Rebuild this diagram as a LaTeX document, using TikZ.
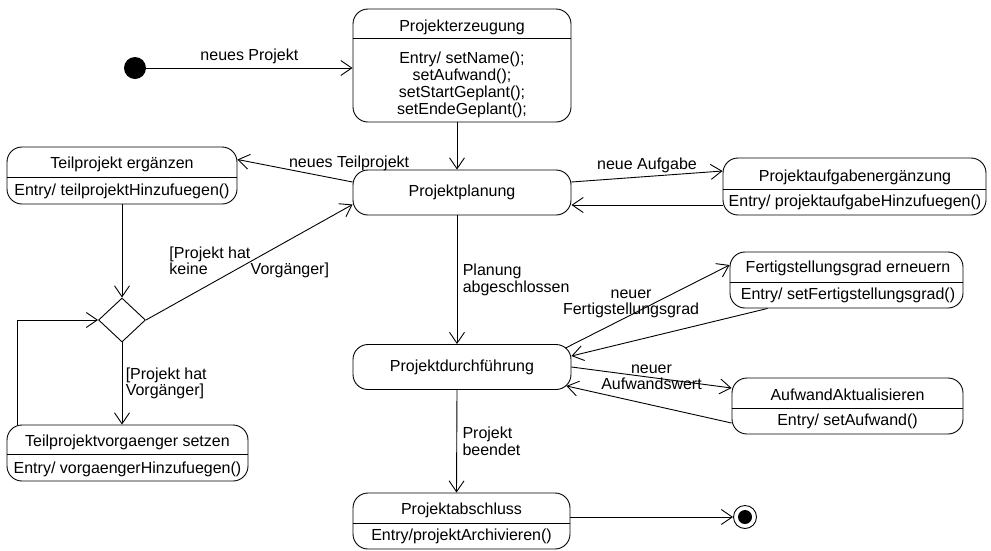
\documentclass[tikz,border=0pt]{standalone}
\usepackage{fontspec}
\setmainfont{Liberation Sans}
\usetikzlibrary{arrows.meta, shapes.geometric, positioning}

\begin{document}
\begin{tikzpicture}[
			x=1pt, y=-1pt,
			>={Straight Barb[length=11pt,width=15pt]},
			every node/.style={font=\fontsize{16}{16.4}\selectfont},
			state/.style={draw, line width=0.9pt, rounded corners=15pt, inner sep=0pt},
			choice/.style={diamond, draw, line width=0.9pt, minimum width=47pt, minimum height=44pt, inner sep=0pt},
			startdot/.style={circle, fill=black, minimum size=22pt, inner sep=0pt},
			enddot/.style={circle, draw, line width=0.9pt, minimum size=23pt, inner sep=0pt, path picture={\fill (path picture bounding box.center) circle (7pt);}},
			divider/.style={line width=0.9pt},
			trans/.style={->, line width=0.9pt}
			]
			\useasboundingbox (0,0) rectangle (991,550);
			
			% --- Pseudo states ---
			\node[startdot] (start) at (135,68) {};
			\node[enddot] (end) at (745,517) {};
			
			% --- Main column ---
			\node[state, minimum width=218pt, minimum height=113pt] (erz) at (462,65.5) {};
			\node (erz-t) at (462,27) {Projekterzeugung};
			\draw[divider] (erz.west |- 0,38) -- (erz.east |- 0,38);
			\node[align=center, font=\fontsize{16}{16.8}\selectfont] (erz-e) at (462,85) {Entry/ setName();\\setAufwand();\\setStartGeplant();\\setEndeGeplant();};
			
			\node[state, minimum width=218pt, minimum height=45pt] (plan) at (462,192.5) {Projektplanung};
			\node[state, minimum width=218pt, minimum height=45pt] (durch) at (462,367) {Projektdurchführung};
			
			\node[state, minimum width=217pt, minimum height=56pt] (absch) at (461.5,521) {};
			\node (absch-t) at (461.5,510) {Projektabschluss};
			\draw[divider] (absch.west |- 0,523) -- (absch.east |- 0,523);
			\node (absch-e) at (461.5,536) {Entry/projektArchivieren()};
			
			% --- Left column: sub projects ---
			\node[state, minimum width=230pt, minimum height=57pt] (teil) at (122,175.5) {};
			\node (teil-t) at (122,164) {Teilprojekt ergänzen};
			\draw[divider] (teil.west |- 0,177) -- (teil.east |- 0,177);
			\node (teil-e) at (122,191) {Entry/ teilprojektHinzufuegen()};
			
			\node[choice] (dec) at (122,320) {};
			
			\node[state, minimum width=241pt, minimum height=56pt] (vorg) at (127.5,453) {};
			\node (vorg-t) at (127.5,442) {Teilprojektvorgaenger setzen};
			\draw[divider] (vorg.west |- 0,454) -- (vorg.east |- 0,454);
			\node (vorg-e) at (127.5,469) {Entry/ vorgaengerHinzufuegen()};
			
			% --- Right column: updates ---
			\node[state, minimum width=263pt, minimum height=57pt] (aufg) at (854.5,186.5) {};
			\node (aufg-t) at (855,177) {Projektaufgabenergänzung};
			\draw[divider] (aufg.west |- 0,189) -- (aufg.east |- 0,189);
			\node (aufg-e) at (855,202) {Entry/ projektaufgabeHinzufuegen()};
			
			\node[state, minimum width=233pt, minimum height=56pt] (fert) at (846.5,280) {};
			\node (fert-t) at (848,268) {Fertigstellungsgrad erneuern};
			\draw[divider] (fert.west |- 0,282) -- (fert.east |- 0,282);
			\node (fert-e) at (848,295) {Entry/ setFertigstellungsgrad()};
			
			\node[state, minimum width=231pt, minimum height=56pt] (aufw) at (847.5,406) {};
			\node (aufw-t) at (847.5,395) {AufwandAktualisieren};
			\draw[divider] (aufw.west |- 0,408) -- (aufw.east |- 0,408);
			\node (aufw-e) at (847.5,421) {Entry/ setAufwand()};
			
			% --- Transitions ---
			\draw[trans] (start) -- (start -| erz.west) node[midway, above] {neues Projekt};
			\draw[trans] ([xshift=-5pt]erz.south) -- ([xshift=-5pt]plan.north);
			\draw[trans] ([yshift=10.5pt]plan.west) -- ([yshift=16pt]teil.east) node[pos=0.03, above=7pt] {neues Teilprojekt};
			\draw[trans] (teil) -- (dec);
			\draw[trans] (dec.east) -- ([yshift=-12pt]plan.west) node[midway, align=left] {[Projekt hat\\keine\hspace{43pt}Vorgänger]};
			\draw[trans] (dec) -- (dec |- vorg.north) node[midway, right, align=left] {[Projekt hat\\Vorgänger]};
			\draw[trans] ([xshift=11pt]vorg.north west) |- (dec);
			
			\draw[trans] ([yshift=10.5pt]plan.east) -- ([yshift=15.5pt]aufg.west) node[midway, above] {neue Aufgabe};
			\draw[trans] ([yshift=-18.5pt]aufg.west) -- ([yshift=-12.5pt]plan.east);
			\draw[trans] ([xshift=-5pt]plan.south) -- ([xshift=-5pt]durch.north) node[midway, right=2pt, align=left] {Planung\\abgeschlossen};
			
			\draw[trans] ([xshift=-6pt,yshift=-4pt]durch.north east) -- ([yshift=15pt]fert.west) node[pos=0.4, yshift=11pt, align=center] {neuer\\Fertigstellungsgrad};
			\draw[trans] ([xshift=38pt]fert.south west) -- ([yshift=11pt]durch.east);
			\draw[trans] (durch.east) -- ([yshift=18pt]aufw.west) node[midway, align=center] {neuer\\Aufwandswert};
			\draw[trans] ([yshift=-17pt]aufw.west) -- ([xshift=-5pt,yshift=4pt]durch.south east);
			
			\draw[trans] ([xshift=-5pt]durch.south) -- ([xshift=-5pt]absch.north) node[midway, right=2pt, align=left] {Projekt\\beendet};
			\draw[trans] (absch.east |- end) -- (end);
			
			\end{tikzpicture}
\end{document}
